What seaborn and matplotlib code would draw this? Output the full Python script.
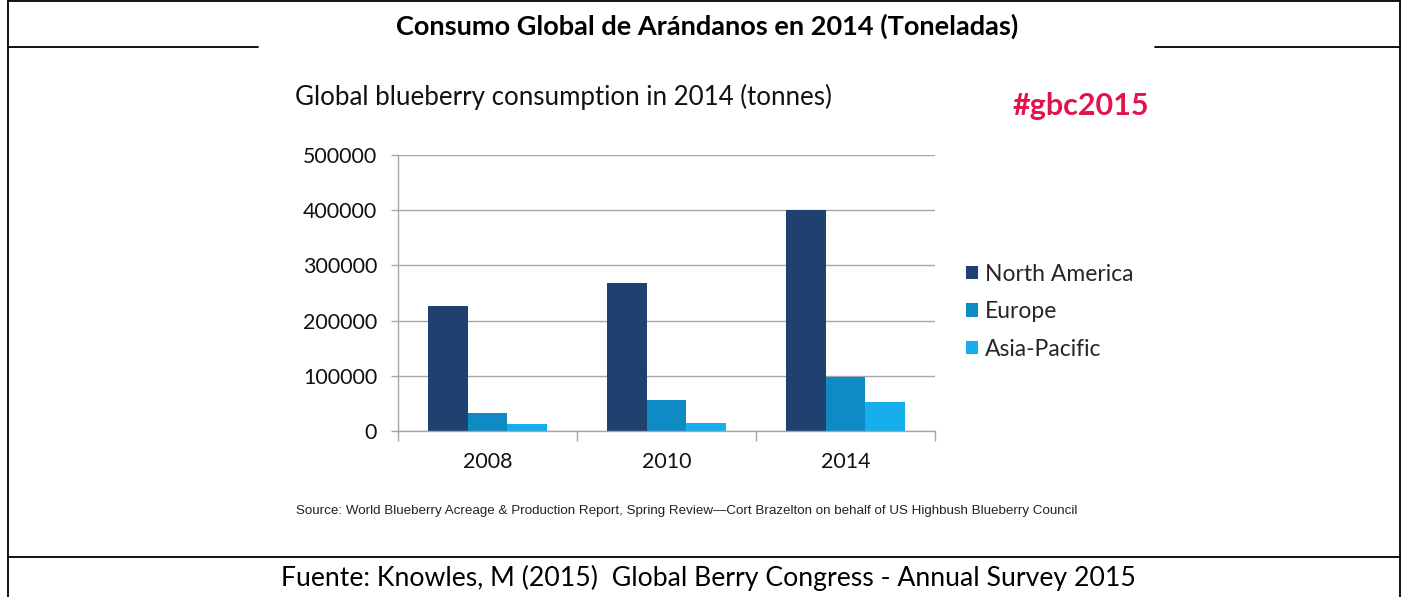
import matplotlib
matplotlib.use("Agg")
import matplotlib.pyplot as plt
from matplotlib.lines import Line2D
from matplotlib.ticker import FixedLocator
import seaborn as sns
import pandas as pd

years = ["2008", "2010", "2014"]
regions = ["North America", "Europe", "Asia-Pacific"]
north_america = [226000, 269000, 400000]
europe = [32500, 56000, 97000]
asia_pacific = [12000, 14500, 52000]
y_ticks = [0, 100000, 200000, 300000, 400000, 500000]
colors = ["#1F4170", "#0E8AC5", "#16AFEC"]

rows = []
for reg, vals in zip(regions, [north_america, europe, asia_pacific]):
    for y, v in zip(years, vals):
        rows.append({"year": y, "region": reg, "value": v})
df = pd.DataFrame(rows)

sns.set_theme(style="white")
plt.rcParams["font.family"] = ["Lato", "DejaVu Sans"]

W, H = 1406, 597
fig = plt.figure(figsize=(W / 100, H / 100), dpi=100)
fig.patch.set_facecolor("white")

def fx(px):
    return px / W

def fy(py):
    return 1 - py / H

ax = fig.add_axes([fx(398), fy(431), fx(935) - fx(398), fy(155) - fy(431)])
sns.barplot(data=df, x="year", y="value", hue="region", hue_order=regions,
            palette=colors, width=0.67, ax=ax, saturation=1, legend=True,
            edgecolor="none")

ax.set_ylim(0, 500000)
ax.set_xlim(-0.5, 2.5)
ax.set_yticks(y_ticks)
ax.set_yticklabels([str(t) for t in y_ticks], fontsize=15.4, color="#111111")
ax.set_xlabel("")
ax.set_ylabel("")
ax.tick_params(axis="x", which="major", length=0, labelsize=15.4, pad=15, labelcolor="#111111")
ax.xaxis.set_minor_locator(FixedLocator([-0.5, 0.5, 1.5, 2.5]))
ax.tick_params(axis="x", which="minor", length=7, width=1, color="#A6A6A6", bottom=True)
ax.tick_params(axis="y", which="major", length=5, width=1, color="#A6A6A6", left=True, pad=10)
ax.grid(axis="y", color="#A6A6A6", linewidth=1)
ax.set_axisbelow(True)
for s in ["top", "right"]:
    ax.spines[s].set_visible(False)
for s in ["left", "bottom"]:
    ax.spines[s].set_color("#A6A6A6")
    ax.spines[s].set_linewidth(1)

handles, labels = ax.get_legend_handles_labels()
ax.legend(handles, labels, loc="upper left", bbox_to_anchor=(fx(945), fy(243)),
          bbox_transform=fig.transFigure, frameon=False, fontsize=16.5,
          handlelength=0.55, handleheight=0.55, handletextpad=0.3, labelspacing=0.72)

# Chart title and hashtag
fig.text(fx(295), fy(97), "Global blueberry consumption in 2014 (tonnes)",
         fontsize=18.6, color="#111111", va="center", ha="left")
fig.text(fx(1013), fy(106), "#gbc2015", fontsize=22, color="#E0134A",
         fontweight="bold", va="center", ha="left")
fig.text(fx(296), fy(511), "Source: World Blueberry Acreage & Production Report, Spring Review\u2014Cort Brazelton on behalf of US Highbush Blueberry Council",
         fontsize=9.6, family=["Liberation Sans", "DejaVu Sans"], color="#222222",
         va="center", ha="left")

# Outer table
fig.text(fx(707), fy(26), "Consumo Global de Ar\u00e1ndanos en 2014 (Toneladas)",
         fontsize=19.5, fontweight="bold", color="black", va="center", ha="center")
fig.text(fx(708), fy(578), "Fuente: Knowles, M (2015)  Global Berry Congress - Annual Survey 2015",
         fontsize=19.2, color="black", va="center", ha="center")

lw = 1.3
def hline(y, x0, x1):
    fig.add_artist(Line2D([fx(x0), fx(x1)], [fy(y), fy(y)], color="black", lw=lw))
def vline(x, y0, y1):
    fig.add_artist(Line2D([fx(x), fx(x)], [fy(y0), fy(y1)], color="black", lw=lw))

hline(1, 8, 1400)
hline(47, 8, 258)
hline(47, 1155, 1400)
hline(557, 8, 1400)
vline(8, 0, 597)
vline(1400, 0, 597)

fig.savefig("out.png", dpi=100, facecolor="white")
